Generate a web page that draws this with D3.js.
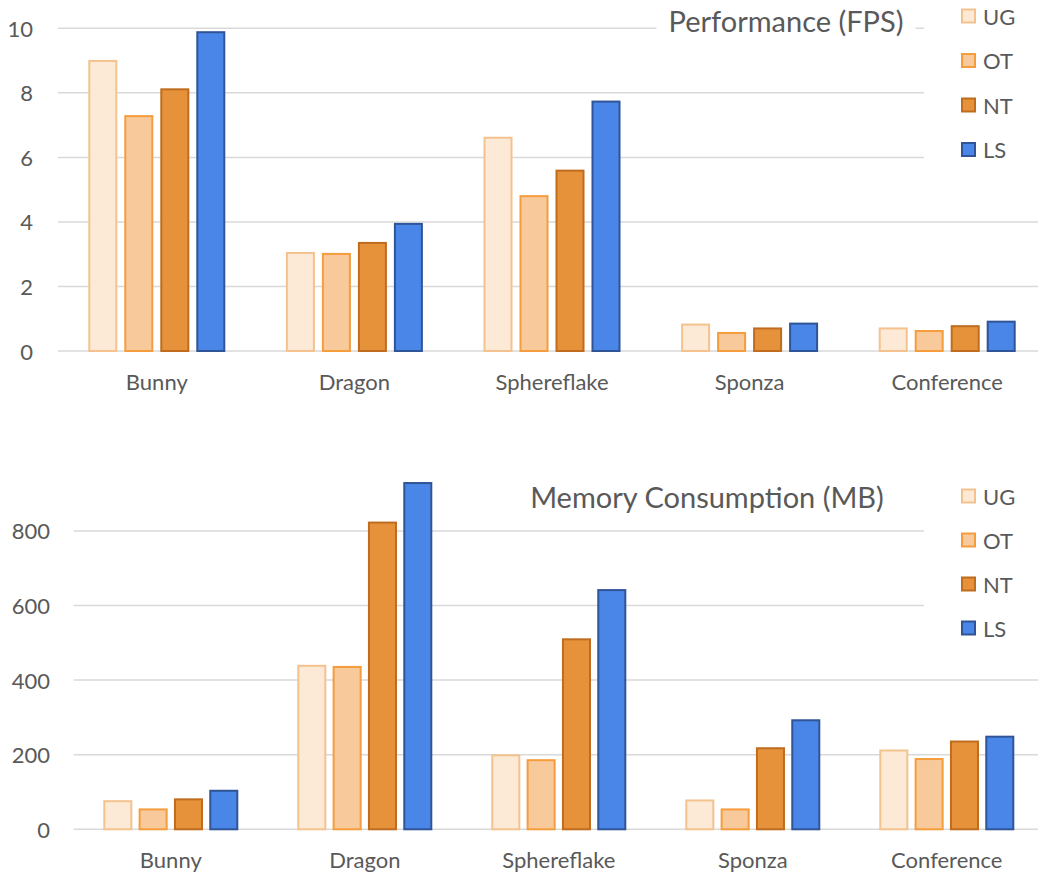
<!DOCTYPE html>
<html>
<head>
<meta charset="utf-8">
<script src="https://cdn.jsdelivr.net/npm/d3@7"></script>
<style>
  html, body { margin: 0; padding: 0; background: #fff; }
  svg { display: block; }
  text { font-family: Lato, "Open Sans", sans-serif; fill: #595959; }
</style>
</head>
<body>
<svg id="chart" width="1038" height="878"></svg>
<script>
// Scenes and renderer variants
const categories = ["Bunny", "Dragon", "Sphereflake", "Sponza", "Conference"];
const series = ["UG", "OT", "NT", "LS"];

// Frames per second
const fpsUG = [9.02, 3.07, 6.64, 0.85, 0.73];
const fpsOT = [7.31, 3.04, 4.83, 0.59, 0.65];
const fpsNT = [8.14, 3.38, 5.62, 0.73, 0.80];
const fpsLS = [9.91, 3.97, 7.76, 0.88, 0.94];
const fpsTicks = [0, 2, 4, 6, 8, 10];

// Memory in MB
const memUG = [78, 441, 201, 80, 214];
const memOT = [56, 438, 188, 56, 191];
const memNT = [83, 825, 512, 220, 238];
const memLS = [106, 931, 644, 295, 251];
const memTicks = [0, 200, 400, 600, 800];

const fills   = { UG: "#fdead6", OT: "#f8c99b", NT: "#e5923a", LS: "#4a86e8" };
const strokes = { UG: "#f4c28f", OT: "#f59d3d", NT: "#c06c1f", LS: "#2f5597" };

const svg = d3.select("#chart");

function drawPanel(cfg) {
  const g = svg.append("g");
  const x0 = d3.scaleBand().domain(categories).range(cfg.xRange).padding(0);
  const bw0 = x0.bandwidth();
  const x1 = d3.scaleBand().domain(series)
    .range([bw0 / 2 - cfg.groupHalf, bw0 / 2 + cfg.groupHalf])
    .paddingInner(cfg.innerPad).paddingOuter(0);
  const y = d3.scaleLinear().domain(cfg.yDomain).range(cfg.yRange);

  // horizontal gridlines
  g.append("g").selectAll("line").data(cfg.ticks).join("line")
    .attr("x1", cfg.xRange[0]).attr("x2", 1038)
    .attr("y1", d => y(d)).attr("y2", d => y(d))
    .attr("stroke", "#d9d9d9").attr("stroke-width", 1.5);

  // y tick labels
  g.append("g").selectAll("text").data(cfg.ticks).join("text")
    .attr("x", cfg.tickX).attr("y", d => y(d))
    .attr("text-anchor", "end").attr("dominant-baseline", "central")
    .style("font-size", "22px")
    .text(d => d);

  // bars
  const rows = categories.map((c, i) => ({ c, vals: series.map(s => ({ s, v: cfg.values[s][i] })) }));
  const groups = g.append("g").selectAll("g").data(rows).join("g")
    .attr("transform", d => `translate(${x0(d.c)},0)`);
  groups.selectAll("rect").data(d => d.vals).join("rect")
    .attr("x", d => x1(d.s) + 1)
    .attr("width", x1.bandwidth() - 2)
    .attr("y", d => y(d.v) + 1)
    .attr("height", d => y(0) - y(d.v) - 1)
    .attr("fill", d => fills[d.s])
    .attr("stroke", d => strokes[d.s])
    .attr("stroke-width", 2);

  // category labels
  g.append("g").selectAll("text").data(categories).join("text")
    .attr("x", d => x0(d) + bw0 / 2).attr("y", cfg.catY)
    .attr("text-anchor", "middle")
    .style("font-size", "22px")
    .text(d => d);

  // title with white backing
  const titleG = g.append("g");
  const backing = titleG.append("rect").attr("fill", "#fff");
  const title = titleG.append("text")
    .attr("x", cfg.titleX).attr("y", cfg.titleY)
    .attr("text-anchor", "middle")
    .style("font-size", "29px")
    .text(cfg.title);
  const bb = title.node().getBBox();
  backing.attr("x", bb.x - 12).attr("y", bb.y).attr("width", bb.width + 24).attr("height", bb.height);

  // legend with white backing
  const lg = g.append("g");
  lg.append("rect").attr("x", 924).attr("y", cfg.legendBox[0])
    .attr("width", 1038 - 924).attr("height", cfg.legendBox[1] - cfg.legendBox[0])
    .attr("fill", "#fff");
  const items = lg.selectAll("g").data(series).join("g")
    .attr("transform", (d, i) => `translate(962,${cfg.legendY + i * cfg.legendStep})`);
  items.append("rect")
    .attr("x", 0).attr("y", -6.5).attr("width", 13).attr("height", 13)
    .attr("fill", d => fills[d]).attr("stroke", d => strokes[d]).attr("stroke-width", 2);
  items.append("text")
    .attr("x", 21).attr("y", 0).attr("dominant-baseline", "central")
    .style("font-size", "22px")
    .text(d => d);
}

drawPanel({
  values: { UG: fpsUG, OT: fpsOT, NT: fpsNT, LS: fpsLS },
  ticks: fpsTicks,
  xRange: [58, 1046],
  groupHalf: 68.5,
  innerPad: 0.194,
  yDomain: [0, 10],
  yRange: [351, 28.3],
  tickX: 33,
  catY: 390,
  title: "Performance (FPS)",
  titleX: 786,
  titleY: 32,
  legendBox: [0, 172],
  legendY: 16,
  legendStep: 44.5
});

drawPanel({
  values: { UG: memUG, OT: memOT, NT: memNT, LS: memLS },
  ticks: memTicks,
  xRange: [73.8, 1043.8],
  groupHalf: 67.5,
  innerPad: 0.178,
  yDomain: [0, 1000],
  yRange: [829.3, 456.3],
  tickX: 50,
  catY: 868,
  title: "Memory Consumption (MB)",
  titleX: 707,
  titleY: 508,
  legendBox: [470, 650],
  legendY: 496,
  legendStep: 44
});
</script>
</body>
</html>
